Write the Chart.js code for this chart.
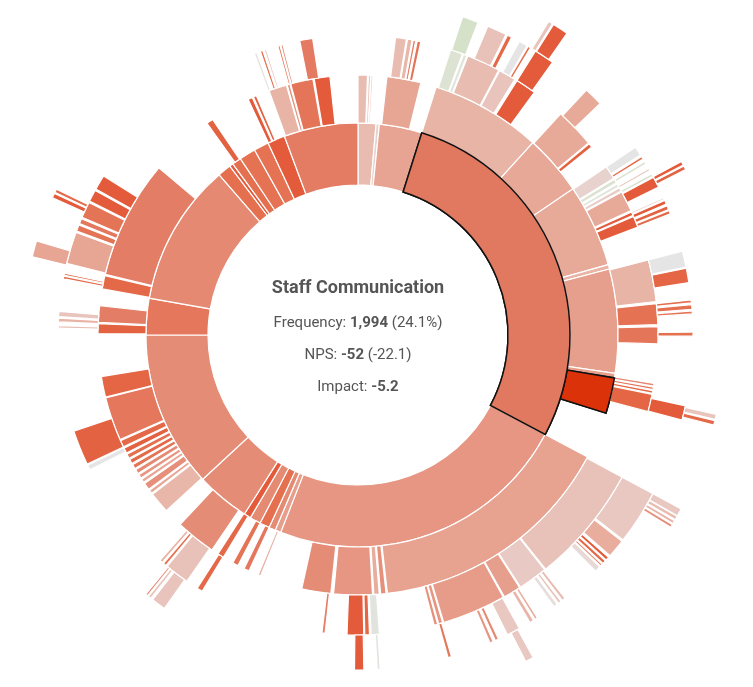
<!DOCTYPE html>
<html>
<head>
<meta charset="utf-8">
<script src="https://cdn.jsdelivr.net/npm/chart.js@4.4.1/dist/chart.umd.min.js"></script>
<style>
html, body { margin:0; padding:0; background:#fff; }
body { width:753px; height:687px; overflow:hidden; position:relative; font-family: Roboto, "Noto Sans", sans-serif; color:#555; }
#chartBox { position:absolute; left:-9px; top:-32px; width:734px; height:734px; }
.center-line { position:absolute; left:208px; width:300px; text-align:center; line-height:1; white-space:nowrap; font-size:15px; }
.center-line b { font-weight:bold; }
#title { font-size:18px; font-weight:bold; }
</style>
</head>
<body>
<div id="chartBox"><canvas id="sunburst" width="734" height="734"></canvas></div>
<div id="centerText"></div>
<script>
// segments per ring: [start deg, end deg, nps, selected]
// angles = share of responses (360 = all)
const ring1 = [
  [0, 4.9, -25], [4.9, 5.8, -12], [5.8, 17.5, -41], [17.5, 118, -52, 1],
  [118, 201.4, -50], [201.4, 203, -44], [203, 204.8, -60], [204.8, 207.5, -85],
  [207.5, 210.5, -60], [210.5, 212.4, -100], [212.4, 227.1, -58], [227.1, 270, -58],
  [270, 280, -76], [280, 319.1, -61], [319.1, 322.8, -85], [322.8, 323.8, -100],
  [323.8, 326.3, -85], [326.3, 330.8, -82], [330.8, 334.9, -82], [334.9, 339.7, -100],
  [339.7, 360, -71]
];
const ring2 = [
  [0, 2.1, -25], [2.3, 2.8, -20], [2.9, 3.3, -15], [6.4, 14, -40],
  [17.5, 42.3, -30], [42.3, 55.8, -38], [55.8, 74.3, -37], [74.3, 75.3, -30],
  [75.3, 98.5, -44], [98.5, 99.5, -45], [99.5, 107.5, -100, 1],
  [118, 173.5, -42], [173.8, 175, -55], [175.3, 176.5, -35], [176.8, 185.4, -50],
  [186, 192.5, -58], [202, 202.6, -30], [204.8, 206, -75], [207.5, 208.8, -80],
  [211.2, 212.6, -90], [214.2, 223.2, -58], [227.5, 232.2, -28],
  [232.5, 233.3, -40], [233.6, 235.2, -55], [235.5, 236.3, -40], [236.6, 237.5, -50],
  [237.8, 238.8, -60], [239.1, 240.1, -80], [240.4, 241.4, -90], [241.7, 242.7, -85],
  [243, 244.2, -95], [244.5, 246, -90], [246.3, 256, -76], [256.2, 260.8, -92],
  [270.3, 272.5, -95], [272.8, 276.5, -70], [280.2, 283.2, -90], [283.5, 310, -70],
  [324.5, 326, -95], [335, 336, -100], [336.3, 337, -95], [340, 344, -30],
  [344.2, 344.8, -55], [345, 350, -78], [350.3, 353.8, -100]
];
const ring3 = [
  [7.2, 9.3, -25], [9.5, 10.4, -28], [10.6, 11.1, -70], [11.4, 12.1, -80],
  [18, 20.4, 20], [20.6, 21.3, 12], [21.5, 28, -25], [28.2, 31.5, -20], [32, 36, -100],
  [42.5, 50.2, -37], [50.4, 51.2, -95], [55.9, 58.5, -12], [58.7, 59.5, 20],
  [59.8, 60.4, 15], [60.6, 61.3, -15], [61.5, 65.5, -37], [65.8, 66.5, -100],
  [66.7, 68.9, -100], [75.5, 83.6, -30], [84, 88, -82], [88.4, 91.7, -78],
  [99.3, 99.8, -60], [100, 100.5, -80], [100.7, 101.2, -90], [101.4, 104.8, -92],
  [118.3, 141.3, -22], [141.5, 147.2, -17], [147.4, 150.8, -44], [151, 163.4, -46],
  [163.6, 164.4, -50], [164.6, 165.3, -55], [175.9, 177.5, 10], [177.8, 178.7, -92],
  [178.9, 182.1, -100], [186.3, 186.9, -70], [211.3, 212.4, -90], [214.8, 219.5, -22],
  [219.8, 220.4, -85], [220.7, 221.3, -30], [243.3, 244.3, 0], [244.5, 251.3, -95],
  [271.3, 271.8, -25], [272.5, 273.2, -30], [273.5, 274.5, -20], [280.8, 281.3, -90],
  [281.5, 281.9, -85], [283.8, 290, -40], [290.3, 291.5, -80], [291.8, 292.8, -75],
  [293.1, 296.2, -80], [296.5, 298.8, -100], [299.1, 302, -100], [339.8, 340.3, 10],
  [341, 341.5, -85], [341.8, 342.2, -20], [344.5, 344.9, -85], [345.1, 345.5, -60],
  [348.8, 351.3, -72]
];
const ring4 = [
  [18.2, 21, 30], [22.8, 26.2, -22], [26.5, 27.3, -90], [28.8, 30.3, 0], [30.5, 31, -85],
  [32, 35.5, -100], [43, 46.3, -37], [55.9, 57.5, 0], [57.8, 58.3, -85], [58.8, 59.3, 20],
  [60.2, 60.6, -20], [61.2, 61.7, 25], [61.9, 63.8, -100], [65.8, 66.1, -20],
  [66.3, 67, -100], [67.3, 68, -95], [68.2, 68.8, -90], [75.5, 78.3, 0], [78.5, 81, -92],
  [84, 84.5, -85], [84.8, 85.6, -85], [85.9, 86.4, -80], [89.5, 90.2, -85],
  [102.2, 104.7, -100], [118.3, 127.7, -18], [128, 131.2, -35], [131.6, 132.2, -100],
  [132.4, 133, -90], [133.2, 133.6, -60], [133.8, 134.8, -8], [141.8, 142.4, -25],
  [142.7, 143.2, -20], [143.5, 144.2, -5], [147.6, 148.1, -35], [148.4, 149.1, -30],
  [151.2, 153.5, -18], [155.2, 155.8, -60], [156.2, 156.8, -50], [163.8, 164.4, -75],
  [176.2, 176.7, 10], [179, 180.6, -100], [215.3, 217.8, -20], [218.2, 218.7, -20],
  [218.9, 219.3, -60], [283.5, 286.3, -40], [294.2, 295, -100], [295.2, 295.8, -90]
];
const ring5 = [
  [31.3, 32, -20], [32.2, 34.7, -100], [61.8, 62.4, -100], [62.6, 63.2, -95],
  [102.5, 103.3, -20], [103.5, 104.2, -90], [118.3, 119.5, -18], [119.6, 120.2, -25],
  [120.4, 120.9, -30], [121.1, 121.6, -55], [151.5, 152.8, -18]
];

const focusName = 'Staff Communication';
const focusLabels = ['Frequency', 'NPS', 'Impact'];
const focusValues = ['1,994', '-52', '-5.2'];
const focusNotes = ['(24.1%)', '(-22.1)', ''];

// nps -> colour scale (red negative, grey neutral, green positive)
const npsStops = [-100, -85, -72, -60, -50, -40, -30, -20, -10, 0, 20, 50, 100];
const npsColors = [[227,91,58],[228,112,79],[228,122,98],[229,138,115],[230,150,130],
  [231,165,148],[232,180,166],[232,196,188],[231,214,210],[229,229,229],
  [221,227,211],[200,220,185],[150,195,130]];

function npsColor(v, full){
    let i = 0;
    while (i < npsStops.length - 2 && v > npsStops[i + 1]) i++;
    let t = (v - npsStops[i]) / (npsStops[i + 1] - npsStops[i]);
    t = Math.max(0, Math.min(1, t));
    let c = npsColors[i].map((a, k) => a + (npsColors[i + 1][k] - a) * t);
    if (full) {
        // highlighted path is drawn without the fade
        c = c.map(a => Math.max(0, (a - 0.2 * 255) / 0.8));
    }
    return 'rgb(' + c.map(Math.round).join(',') + ')';
}

function buildRing(segments, weight){
    let ds = {data: [], backgroundColor: [], borderColor: [], borderWidth: [], hl: [],
        weight: weight, borderAlign: 'center', borderJoinStyle: 'miter'};
    let cursor = 0;
    let addGap = size => {
        ds.data.push(size);
        ds.backgroundColor.push('rgba(0,0,0,0)');
        ds.borderColor.push('rgba(0,0,0,0)');
        ds.borderWidth.push(0);
    };
    segments.forEach(seg => {
        let start = seg[0], end = seg[1], nps = seg[2], sel = seg[3];
        if (start - cursor > 0.01) addGap(start - cursor);
        if (sel) ds.hl.push(ds.data.length);
        ds.data.push(end - start);
        ds.backgroundColor.push(npsColor(nps, sel));
        ds.borderColor.push(sel ? '#111' : '#fff');
        ds.borderWidth.push(sel ? 1.5 : 1.2);
        cursor = end;
    });
    if (360 - cursor > 0.01) addGap(360 - cursor);
    return ds;
}

// outermost ring first for chart.js
let datasets = [
    buildRing(ring5, 32),
    buildRing(ring4, 35),
    buildRing(ring3, 40),
    buildRing(ring2, 48),
    buildRing(ring1, 62)
];

const highlightPlugin = {
    id: 'highlightPath',
    afterDatasetsDraw(chart){
        let ctx = chart.ctx;
        chart.data.datasets.forEach((ds, i) => {
            let meta = chart.getDatasetMeta(i);
            ds.hl.forEach(j => {
                ctx.save();
                meta.data[j].draw(ctx);
                ctx.restore();
            });
        });
    }
};

new Chart(document.getElementById('sunburst'), {
    type: 'doughnut',
    data: {datasets: datasets},
    options: {
        responsive: false,
        animation: false,
        events: [],
        radius: 367,
        cutout: '40.87%',
        layout: {padding: 0},
        plugins: {legend: {display: false}, tooltip: {enabled: false}}
    },
    plugins: [highlightPlugin]
});

// centre label
let centre = document.getElementById('centerText');
let title = document.createElement('div');
title.className = 'center-line';
title.id = 'title';
title.style.top = '278px';
title.innerText = focusName;
centre.appendChild(title);
let tops = [315, 347, 379];
for (let i = 0; i < focusLabels.length; i++){
    let line = document.createElement('div');
    line.className = 'center-line';
    line.style.top = tops[i] + 'px';
    line.innerHTML = focusLabels[i] + ': <b>' + focusValues[i] + '</b>' + (focusNotes[i] ? ' ' + focusNotes[i] : '');
    centre.appendChild(line);
}
</script>
</body>
</html>
